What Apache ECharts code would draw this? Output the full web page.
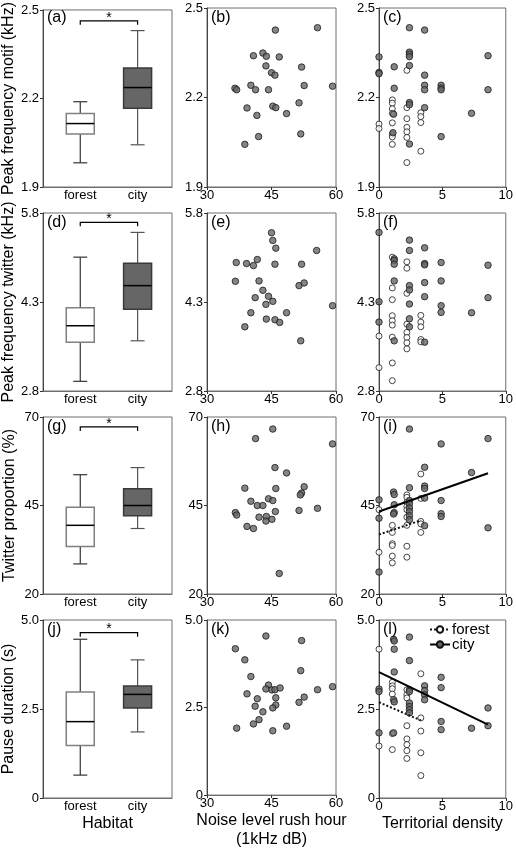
<!DOCTYPE html>
<html><head><meta charset="utf-8">
<script src="https://cdn.jsdelivr.net/npm/echarts@6/dist/echarts.min.js"></script>
<style>html,body{margin:0;padding:0;background:#fff}#c{width:516px;height:850px}</style>
</head><body><div id="c"></div>
<script>
// ---------------- DATA ----------------
const habitats = ['forest', 'city'];
const panelLetters = ['(a)','(b)','(c)','(d)','(e)','(f)','(g)','(h)','(i)','(j)','(k)','(l)'];
const yNames = ['Peak frequency motif (kHz)', 'Peak frequency twitter (kHz)', 'Twitter proportion (%)', 'Pause duration (s)'];
const xNames = ['Habitat', 'Noise level rush hour\n(1kHz dB)', 'Territorial density'];
const yRanges = [[1.9, 2.5], [2.8, 5.8], [20, 70], [0, 5]];
const yTicks = [[1.9, 2.2, 2.5], [2.8, 4.3, 5.8], [20, 45, 70], [0, 2.5, 5]];
const yTickLabels = [['1.9','2.2','2.5'], ['2.8','4.3','5.8'], ['20','45','70'], ['0','2.5','5.0']];
const xRanges = [[-0.65, 1.6], [30, 60], [0, 10]];
const xTicks = [[0, 1], [30, 45, 60], [0, 5, 10]];
const xTickLabels = [['forest','city'], ['30','45','60'], ['0','5','10']];

// box statistics: [low whisker, Q1, median, Q3, high whisker]
const motifForestBox   = [1.982, 2.080, 2.115, 2.149, 2.189];
const motifCityBox     = [2.043, 2.167, 2.237, 2.303, 2.430];
const twitterForestBox = [2.963, 3.623, 3.900, 4.204, 5.056];
const twitterCityBox   = [3.646, 4.176, 4.576, 4.954, 5.473];
const propForestBox    = [28.5, 33.4, 39.4, 44.5, 53.7];
const propCityBox      = [38.5, 42.1, 45.0, 49.7, 55.7];
const pauseForestBox   = [0.643, 1.473, 2.145, 2.975, 4.459];
const pauseCityBox     = [1.856, 2.528, 2.910, 3.143, 3.880];
const sigLevels = [2.463, 5.642, 67.2, 4.645];

// noise level (city sites)
const noiseB = [45.9,55.7,43.0,40.8,43.8,46.8,43.7,52.0,45.0,45.8,36.5,36.9,40.2,41.3,44.3,52.6,59.2,39.3,45.3,46.0,51.4,41.6,48.5,42.0,51.8,38.8];
const motifB = [2.426,2.434,2.349,2.340,2.338,2.336,2.306,2.302,2.283,2.275,2.231,2.226,2.241,2.226,2.226,2.240,2.238,2.165,2.171,2.166,2.182,2.140,2.146,2.069,2.078,2.043];
const noiseE = [45.0,45.3,46.0,55.5,36.8,39.2,40.8,41.7,45.8,52.0,36.6,42.1,51.4,52.6,43.0,41.2,44.3,45.3,43.7,59.2,40.2,48.5,43.8,45.8,46.9,38.8,51.8];
const twitterE = [5.467,5.338,5.208,5.168,4.965,4.948,4.914,5.016,4.937,4.937,4.649,4.655,4.576,4.621,4.497,4.373,4.396,4.311,4.260,4.238,4.119,4.119,4.012,4.001,3.956,3.882,3.646];
const noiseH = [45.3,41.3,59.2,45.8,48.5,38.8,46.0,52.6,52.0,51.7,40.2,44.3,45.3,41.7,43.0,36.6,36.9,45.9,51.4,55.7,42.1,43.8,45.1,43.7,39.3,40.8,46.8];
const propH = [66.6,63.9,62.4,55.7,54.2,49.9,49.8,50.3,48.5,48.0,46.2,46.9,46.4,45.0,45.0,43.0,42.3,43.3,43.6,44.2,41.7,41.9,41.1,40.6,39.1,38.5,25.8];
const noiseK = [43.7,52.0,36.6,38.8,51.8,40.2,44.3,43.7,45.1,45.8,47.0,55.7,59.2,39.3,41.7,46.0,52.6,51.4,41.2,46.0,45.3,43.0,42.1,40.8,36.9,48.5,45.3];
const pauseK = [4.543,4.412,4.179,3.862,3.554,3.386,3.143,3.031,3.003,3.010,3.060,3.010,3.097,2.891,2.751,2.779,2.798,2.649,2.537,2.574,2.490,2.378,2.154,2.033,1.912,1.968,1.837];

// territorial density panels
const densCityC = [0,0,0,1.2,1.2,1.15,1.1,2.4,2.4,2.4,2.4,2.4,2.4,2.4,2.4,3.6,3.6,3.6,3.6,3.6,4.9,4.9,4.9,4.9,7.3,8.6,8.6];
const motifCityC = [2.336,2.284,2.280,2.303,2.231,2.144,2.082,2.434,2.352,2.345,2.337,2.307,2.183,2.176,2.044,2.426,2.275,2.241,2.226,2.166,2.241,2.232,2.226,2.069,2.147,2.340,2.226];
const densForestC = [0,0,1.05,1.05,1.05,1.05,1.05,1.05,1.05,1.05,2.2,2.2,2.2,2.2,2.2,2.2,2.2,3.3,3.3,3.3,3.3];
const motifForestC = [2.111,2.096,2.192,2.181,2.162,2.147,2.115,2.076,2.068,2.043,2.291,2.166,2.129,2.100,2.085,2.066,1.982,2.149,2.136,2.116,2.020];

const densCityF = [0,0,0,1.2,1.2,1.2,1.2,1.2,2.4,2.4,2.4,2.4,2.4,2.4,2.4,3.6,3.6,3.6,3.6,3.6,3.6,4.9,4.9,4.9,4.9,7.3,8.6,8.6];
const twitterCityF = [5.473,4.305,3.961,5.027,4.999,4.937,4.655,3.646,5.343,5.168,4.576,4.503,4.266,4.017,3.882,5.213,4.948,4.926,4.627,4.390,3.623,4.965,4.655,4.238,4.125,4.119,4.920,4.373];
const densForestF = [0,0,1.05,1.05,1.05,1.05,1.05,1.05,1.05,1.05,1.05,2.2,2.2,2.2,2.2,2.2,2.2,2.2,2.2,3.3,3.3,3.3,3.3,3.3];
const twitterForestF = [3.725,3.194,5.055,4.537,4.339,4.069,3.984,3.911,3.708,3.273,2.974,4.977,4.869,4.446,3.927,3.787,3.702,3.612,3.510,4.074,3.961,3.882,3.668,3.629];

const densCityI = [0,0,0,1.15,1.2,1.2,1.2,1.15,2.4,2.4,2.4,2.4,2.4,2.4,2.4,2.4,3.6,3.6,3.6,3.6,3.6,4.9,4.9,4.9,4.9,7.3,8.6,8.6];
const propCityI = [46.6,41.4,26.2,48.8,48.1,45.2,43.0,42.6,66.6,50.0,46.4,45.5,44.3,43.3,42.1,41.0,55.8,50.5,49.8,47.1,39.3,62.4,46.4,42.7,41.9,54.3,63.9,38.7];
const densForestI = [0,0,1.05,1.05,1.05,1.05,1.05,1.05,2.2,2.2,2.2,2.2,2.2,2.2,2.2,2.2,2.2,3.3,3.3,3.3,3.3,3.3];
const propForestI = [43.8,31.8,39.4,37.4,34.2,33.7,30.7,28.8,48.0,47.3,45.9,44.7,43.8,41.7,39.4,33.5,30.4,53.9,47.0,40.5,39.8,37.4];

const densCityL = [0,0,0,1.15,1.2,1.2,1.2,1.15,1.2,1.15,2.4,2.4,2.4,2.4,2.4,2.4,2.4,2.4,3.6,3.6,3.6,3.6,4.9,4.9,4.9,4.9,7.3,8.6,8.6];
const pauseCityL = [3.06,2.99,1.83,4.46,4.41,4.18,3.54,2.76,2.70,1.83,4.52,3.86,3.04,2.99,2.67,2.57,2.48,2.39,3.15,3.02,2.90,2.76,3.39,3.10,2.15,1.92,1.96,2.53,2.03];
const densForestL = [0,0,1.05,1.05,1.05,1.05,1.05,1.05,2.2,2.2,2.2,2.2,2.2,2.2,2.2,2.2,3.3,3.3,3.3,3.3,3.3];
const pauseForestL = [4.18,1.46,3.25,3.15,3.07,2.92,1.81,1.36,3.04,2.90,2.81,2.03,1.66,1.50,1.33,1.11,3.49,2.25,1.88,1.27,0.63];

// regression lines (endpoints)
const fitXForestI = [0, 3.3],  fitYForestI = [36.8, 40.8];
const fitXCityI   = [0, 8.6],  fitYCityI   = [43.3, 54.1];
const fitXForestL = [0, 3.3],  fitYForestL = [2.69, 2.18];
const fitXCityL   = [0, 8.6],  fitYCityL   = [3.535, 2.061];

// ---------------- LAYOUT / STYLE ----------------
const FONT = 'Liberation Sans, Arial, Helvetica, sans-serif';
const colLeft = [43, 207, 379], colWidth = [129, 129, 131];
const rowTop = [8, 213, 417, 620], rowHeight = [179, 178, 177, 178];
const FRAME = '#6e6e6e';
const zip = (xs, ys) => xs.map((x, i) => [x, ys[i]]);
const lab = (ticks, labels) => v => { const i = ticks.findIndex(t => Math.abs(t - v) < 1e-6); return i >= 0 ? labels[i] : ''; };

const grids = [], xAxes = [], yAxes = [], series = [], graphics = [];
for (let r = 0; r < 4; r++) {
  for (let c = 0; c < 3; c++) {
    const gi = r * 3 + c;
    grids.push({left: colLeft[c], top: rowTop[r], width: colWidth[c], height: rowHeight[r],
      show: true, borderColor: FRAME, borderWidth: 1, backgroundColor: 'transparent'});
    xAxes.push({type: 'value', gridIndex: gi, min: xRanges[c][0], max: xRanges[c][1],
      splitLine: {show: false},
      axisLine: {show: true, onZero: false, lineStyle: {color: FRAME, width: 1}},
      axisTick: {show: c !== 0, customValues: xTicks[c], length: 3, lineStyle: {color: '#333'}},
      axisLabel: {customValues: xTicks[c], formatter: lab(xTicks[c], xTickLabels[c]),
        margin: 2, color: '#000', fontSize: 13, fontFamily: FONT},
      name: r === 3 ? xNames[c] : '', nameLocation: 'middle', nameGap: 7,
      nameTextStyle: {fontSize: 16, fontFamily: FONT, color: '#000', lineHeight: 19, verticalAlign: 'top'}
    });
    yAxes.push({type: 'value', gridIndex: gi, min: yRanges[r][0], max: yRanges[r][1],
      splitLine: {show: false},
      axisLine: {show: true, onZero: false, lineStyle: {color: '#444', width: 1}},
      axisTick: {show: true, customValues: yTicks[r], length: 3, lineStyle: {color: '#333'}},
      axisLabel: {customValues: yTicks[r], formatter: lab(yTicks[r], yTickLabels[r]),
        margin: 4, color: '#000', fontSize: 13, fontFamily: FONT},
      name: c === 0 ? yNames[r] : '', nameLocation: 'middle', nameGap: 25,
      nameTextStyle: {fontSize: 16, fontFamily: FONT, color: '#000'}
    });
    graphics.push({type: 'text', left: colLeft[c] + 4, top: rowTop[r] + 2, z: 100,
      style: {text: panelLetters[gi], font: '16px ' + FONT, fill: '#000'}});
  }
}

function boxRender(params, api) {
  const x = api.value(0);
  const low = api.coord([x, api.value(1)]), q1 = api.coord([x, api.value(2)]);
  const med = api.coord([x, api.value(3)]), q3 = api.coord([x, api.value(4)]);
  const high = api.coord([x, api.value(5)]);
  const hw = 14, cw = 7;
  const city = params.dataIndex === 1;
  const wl = {stroke: city ? '#555' : '#333', lineWidth: 1.2};
  return {type: 'group', children: [
    {type: 'line', shape: {x1: low[0], y1: low[1], x2: q1[0], y2: q1[1]}, style: wl},
    {type: 'line', shape: {x1: q3[0], y1: q3[1], x2: high[0], y2: high[1]}, style: wl},
    {type: 'line', shape: {x1: low[0] - cw, y1: low[1], x2: low[0] + cw, y2: low[1]}, style: wl},
    {type: 'line', shape: {x1: high[0] - cw, y1: high[1], x2: high[0] + cw, y2: high[1]}, style: wl},
    {type: 'rect', shape: {x: q3[0] - hw, y: q3[1], width: hw * 2, height: q1[1] - q3[1]},
      style: {fill: city ? '#666666' : '#ffffff', stroke: city ? '#3a3a3a' : '#808080', lineWidth: 1.5}},
    {type: 'line', shape: {x1: med[0] - hw, y1: med[1], x2: med[0] + hw, y2: med[1]},
      style: {stroke: '#000', lineWidth: 1.5}}
  ]};
}
function bracketRender(params, api) {
  const y = api.value(2);
  const p0 = api.coord([api.value(0), y]), p1 = api.coord([api.value(1), y]);
  return {type: 'group', children: [
    {type: 'polyline', shape: {points: [[p0[0], p0[1] + 4], [p0[0], p0[1]], [p1[0], p1[1]], [p1[0], p1[1] + 4]]},
      style: {stroke: '#000', lineWidth: 1.2, fill: null}},
    {type: 'text', style: {text: '*', x: (p0[0] + p1[0]) / 2, y: p0[1] - 10, textAlign: 'center',
      textVerticalAlign: 'top', font: '14px ' + FONT, fill: '#000'}}
  ]};
}

const boxStats = [[motifForestBox, motifCityBox], [twitterForestBox, twitterCityBox],
                  [propForestBox, propCityBox], [pauseForestBox, pauseCityBox]];
const noiseX = [noiseB, noiseE, noiseH, noiseK], noiseY = [motifB, twitterE, propH, pauseK];
const densF = [densForestC, densForestF, densForestI, densForestL];
const valF = [motifForestC, twitterForestF, propForestI, pauseForestL];
const densC = [densCityC, densCityF, densCityI, densCityL];
const valC = [motifCityC, twitterCityF, propCityI, pauseCityL];

const filledStyle = {color: '#666666', borderColor: '#1a1a1a', borderWidth: 1};
const openStyle = {color: '#ffffff', borderColor: '#1a1a1a', borderWidth: 1};

for (let r = 0; r < 4; r++) {
  const g0 = r * 3, g1 = r * 3 + 1, g2 = r * 3 + 2;
  series.push({type: 'custom', name: 'box' + r, xAxisIndex: g0, yAxisIndex: g0, renderItem: boxRender,
    encode: {x: 0, y: [1, 2, 3, 4, 5]}, silent: true,
    data: [[0].concat(boxStats[r][0]), [1].concat(boxStats[r][1])]});
  series.push({type: 'custom', name: 'sig' + r, xAxisIndex: g0, yAxisIndex: g0, renderItem: bracketRender,
    encode: {x: [0, 1], y: 2}, silent: true, data: [[0, 1, sigLevels[r]]]});
  series.push({type: 'scatter', name: 'noise' + r, xAxisIndex: g1, yAxisIndex: g1, symbolSize: 6.5,
    itemStyle: filledStyle, data: zip(noiseX[r], noiseY[r]), silent: true});
  series.push({type: 'scatter', name: 'forest sites ' + r, xAxisIndex: g2, yAxisIndex: g2, symbolSize: 6,
    itemStyle: openStyle, data: zip(densF[r], valF[r]), silent: true});
  series.push({type: 'scatter', name: 'city sites ' + r, xAxisIndex: g2, yAxisIndex: g2, symbolSize: 6.5,
    itemStyle: filledStyle, data: zip(densC[r], valC[r]), silent: true});
}
// regression lines (i)
series.push({type: 'line', name: 'forest fit i', xAxisIndex: 8, yAxisIndex: 8, showSymbol: false, symbol: 'none',
  lineStyle: {color: '#111', width: 2, type: [2, 2]}, data: zip(fitXForestI, fitYForestI), silent: true, z: 5});
series.push({type: 'line', name: 'city fit i', xAxisIndex: 8, yAxisIndex: 8, showSymbol: false, symbol: 'none',
  lineStyle: {color: '#000', width: 2}, data: zip(fitXCityI, fitYCityI), silent: true, z: 5});
// regression lines (l) -> legend entries
series.push({type: 'line', name: 'forest', xAxisIndex: 11, yAxisIndex: 11, showSymbol: false, symbol: 'circle',
  itemStyle: {color: '#ffffff', borderColor: '#111', borderWidth: 1},
  lineStyle: {color: '#111', width: 2, type: [2, 2]}, data: zip(fitXForestL, fitYForestL), silent: true, z: 5});
series.push({type: 'line', name: 'city', xAxisIndex: 11, yAxisIndex: 11, showSymbol: false, symbol: 'circle',
  itemStyle: {color: '#666666', borderColor: '#111', borderWidth: 1},
  lineStyle: {color: '#000', width: 2}, data: zip(fitXCityL, fitYCityL), silent: true, z: 5});

const chart = echarts.init(document.getElementById('c'), null, {renderer: 'canvas'});
chart.setOption({
  animation: false,
  backgroundColor: '#ffffff',
  textStyle: {fontFamily: FONT},
  grid: grids, xAxis: xAxes, yAxis: yAxes, series: series,
  legend: {data: ['forest', 'city'], orient: 'vertical', left: 429, top: 622, itemGap: 0,
    itemWidth: 20, itemHeight: 8, selectedMode: false, padding: 0,
    textStyle: {fontSize: 15, fontFamily: FONT, color: '#000', padding: [0, 0, 0, -3]}},
  graphic: graphics
});
</script>
</body></html>
